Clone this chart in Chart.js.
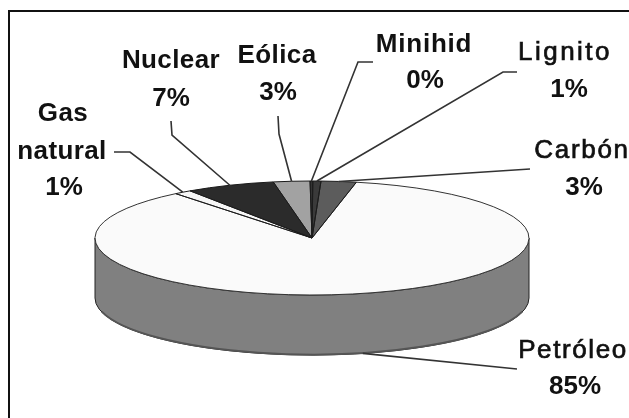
<!DOCTYPE html>
<html>
<head>
<meta charset="utf-8">
<style>
html,body{margin:0;padding:0;background:#fff;overflow:hidden}
canvas{display:block}
</style>
<script src="https://cdn.jsdelivr.net/npm/chart.js@4"></script>
</head>
<body>
<canvas id="c" width="629" height="418"></canvas>
<script>
const categories = ['Petróleo','Gas natural','Nuclear','Eólica','Minihid','Lignito','Carbón'];
const shares = [85.4, 1.3, 6.6, 2.7, 0.2, 0.6, 2.6];
const topColors = ['#fafafa','#f6f6f6','#2b2b2b','#a2a2a2','#333333','#3a3a3a','#5c5c5c'];
const sideColors = ['#808080','#808080','#1c1c1c','#6a6a6a','#222222','#222222','#3c3c3c'];

// label placement: text centres + baselines, then the leader elbow points
const labelFonts = ['normal','bold','bold','bold','bold','normal','normal'];
const labelSpacing = ['1.6px','0.4px','0.4px','0.4px','0.8px','2.5px','1.7px'];
const nameCenters = [[573],[63,62],[171],[277],[424],[565],[582]];
const nameBaselines = [[358],[121,159],[68],[63],[52],[60],[158]];
const pctCenters = [575,64,171,278,425,569,584];
const pctBaselines = [394,195,106,100,88,97,195];
const leaderElbows = [
  [[517,369]],
  [[114,152],[130,152]],
  [[171,121],[172,135]],
  [[278,116],[279,134]],
  [[373,62],[358,62]],
  [[517,72],[503,72]],
  [[530,169]]
];

const DISK = {x:312, y:238, rx:217, ry:57, depth:60};

function diskTransform(chart, ctx){
  const el = chart.getDatasetMeta(0).data[0];
  const R = el.outerRadius;
  ctx.translate(DISK.x, DISK.y);
  ctx.scale(DISK.rx/R, DISK.ry/R);
  ctx.translate(-el.x, -el.y);
}

const disk3d = {
  id:'disk3d',
  beforeDatasetsDraw(chart){
    const ctx = chart.ctx, arcs = chart.getDatasetMeta(0).data;
    arcs.forEach((el,i)=>{
      [-2*Math.PI,0,2*Math.PI].forEach(k=>{
        const a0 = Math.max(el.startAngle+k,0), a1 = Math.min(el.endAngle+k,Math.PI);
        if(a1<=a0) return;
        ctx.save();
        ctx.beginPath();
        ctx.ellipse(DISK.x,DISK.y,DISK.rx,DISK.ry,0,a0,a1);
        ctx.ellipse(DISK.x,DISK.y+DISK.depth,DISK.rx,DISK.ry,0,a1,a0,true);
        ctx.closePath();
        ctx.fillStyle = sideColors[i];
        ctx.fill();
        ctx.lineWidth = 1;
        ctx.strokeStyle = '#222';
        ctx.stroke();
        ctx.beginPath();
        ctx.ellipse(DISK.x,DISK.y+DISK.depth-0.5,DISK.rx,DISK.ry,0,a0+0.25,a1-0.25);
        ctx.lineWidth = 2;
        ctx.strokeStyle = '#555';
        ctx.stroke();
        ctx.restore();
      });
    });
    ctx.save();
    diskTransform(chart, ctx);
  },
  afterDatasetsDraw(chart){
    const ctx = chart.ctx, arcs = chart.getDatasetMeta(0).data;
    ctx.restore();
    arcs.forEach((el,i)=>{
      ctx.beginPath();
      ctx.moveTo(DISK.x,DISK.y);
      ctx.ellipse(DISK.x,DISK.y,DISK.rx,DISK.ry,0,el.startAngle,el.endAngle);
      ctx.closePath();
      ctx.lineWidth = 1;
      ctx.strokeStyle = i===0 ? '#333' : '#1a1a1a';
      ctx.stroke();
    });
    // frame: only its top and left sides fall inside the picture
    ctx.lineWidth = 2;
    ctx.strokeStyle = '#111';
    ctx.beginPath();
    ctx.moveTo(9,418); ctx.lineTo(9,11); ctx.lineTo(629,11);
    ctx.stroke();
    arcs.forEach((el,i)=>{
      const mid = (el.startAngle+el.endAngle)/2;
      const ax = DISK.x+DISK.rx*Math.cos(mid);
      const ayTop = DISK.y+DISK.ry*Math.sin(mid);
      const ay = Math.sin(mid)>0 ? ayTop+DISK.depth : ayTop;
      ctx.beginPath();
      leaderElbows[i].forEach((p,j)=> j? ctx.lineTo(p[0],p[1]) : ctx.moveTo(p[0],p[1]));
      ctx.lineTo(ax,ay);
      ctx.lineWidth = 1.6;
      ctx.strokeStyle = '#333';
      ctx.stroke();

      ctx.fillStyle = '#111';
      ctx.textAlign = 'center';
      ctx.textBaseline = 'alphabetic';
      ctx.font = labelFonts[i]+' 26px "Liberation Sans", Arial, sans-serif';
      ctx.letterSpacing = labelSpacing[i];
      ctx.strokeStyle = '#111';
      ctx.lineWidth = 0.7;
      categories[i].split(' ').forEach((w,j)=>{
        ctx.fillText(w, nameCenters[i][j], nameBaselines[i][j]);
        if(labelFonts[i]==='normal') ctx.strokeText(w, nameCenters[i][j], nameBaselines[i][j]);
      });
      ctx.letterSpacing = '0px';
      ctx.font = 'bold 26px "Liberation Sans", Arial, sans-serif';
      ctx.fillText(Math.round(shares[i])+'%', pctCenters[i], pctBaselines[i]);
    });
  }
};

new Chart(document.getElementById('c'),{
  type:'pie',
  data:{
    labels:categories,
    datasets:[{data:shares, backgroundColor:topColors, borderWidth:0, clip:false}]
  },
  options:{
    responsive:false,
    animation:false,
    rotation:11.8,
    layout:{padding:0},
    plugins:{legend:{display:false},tooltip:{enabled:false},title:{display:false}}
  },
  plugins:[disk3d]
});
</script>
</body>
</html>
